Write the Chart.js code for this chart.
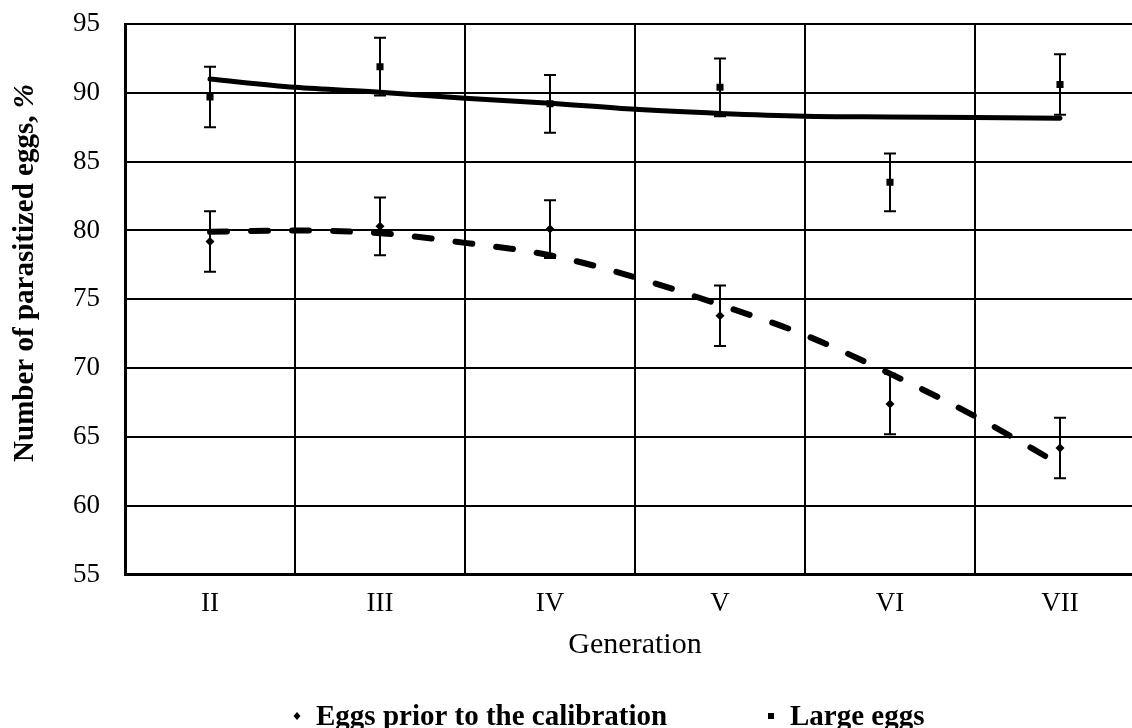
<!DOCTYPE html>
<html lang="en">
<head>
<meta charset="UTF-8">
<title>Number of parasitized eggs by generation</title>
<script src="https://cdn.jsdelivr.net/npm/chart.js"></script>
<style>
  html, body { margin: 0; padding: 0; overflow: hidden; background: #fff; }
  #wrap { width: 1150px; height: 728px; }
</style>
</head>
<body>
<div id="wrap"><canvas id="myChart" width="1150" height="728"></canvas></div>
<script>
// categories
const generations = ['II', 'III', 'IV', 'V', 'VI', 'VII'];

// measured means and error (+/-)
const priorEggs = [79.2, 80.3, 80.1, 73.8, 67.4, 64.2];
const priorErr  = [2.2, 2.1, 2.1, 2.2, 2.2, 2.2];
const largeEggs = [89.7, 91.9, 89.2, 90.4, 83.5, 90.6];
const largeErr  = [2.2, 2.1, 2.1, 2.1, 2.1, 2.2];

// trend lines (x = generation index, 1 = II)
const trendX     = [1, 1.5, 2, 2.5, 3, 3.5, 4, 4.5, 5, 5.5, 6];
const priorTrend = [79.9, 80.0, 79.8, 79.1, 78.2, 76.6, 74.6, 72.4, 69.6, 66.5, 63.0];
const largeTrend = [91.0, 90.4, 90.05, 89.6, 89.25, 88.8, 88.5, 88.3, 88.25, 88.2, 88.15];

const yTicks = { min: 55, max: 95, step: 5 };
const xTitle = 'Generation';
const yTitleText = 'Number of parasitized eggs, ';
const yTitleUnit = '%';

const FONT = '"Liberation Serif", "Times New Roman", serif';

// error bars for datasets that carry an "errors" array
const errorBars = {
  id: 'errorBars',
  afterDatasetsDraw(chart) {
    const ctx = chart.ctx;
    const y = chart.scales.y;
    ctx.save();
    ctx.strokeStyle = '#000';
    ctx.lineWidth = 2;
    chart.data.datasets.forEach((ds, i) => {
      if (!ds.errors) return;
      chart.getDatasetMeta(i).data.forEach((pt, j) => {
        const top = y.getPixelForValue(ds.data[j] + ds.errors[j]);
        const bot = y.getPixelForValue(ds.data[j] - ds.errors[j]);
        ctx.beginPath();
        ctx.moveTo(pt.x, top); ctx.lineTo(pt.x, bot);
        ctx.moveTo(pt.x - 6, top); ctx.lineTo(pt.x + 6, top);
        ctx.moveTo(pt.x - 6, bot); ctx.lineTo(pt.x + 6, bot);
        ctx.stroke();
      });
    });
    ctx.restore();
  }
};

// rotated y title, "%" in italic
const yTitle = {
  id: 'yTitle',
  afterDraw(chart) {
    const ctx = chart.ctx;
    ctx.save();
    ctx.translate(26, 273);
    ctx.rotate(-Math.PI / 2);
    ctx.fillStyle = '#000';
    ctx.textBaseline = 'middle';
    ctx.font = 'bold 29px ' + FONT;
    const w1 = ctx.measureText(yTitleText).width;
    ctx.font = 'italic bold 29px ' + FONT;
    const w2 = ctx.measureText(yTitleUnit).width;
    const x0 = -(w1 + w2) / 2;
    ctx.font = 'bold 29px ' + FONT;
    ctx.fillText(yTitleText, x0, 0);
    ctx.font = 'italic bold 29px ' + FONT;
    ctx.fillText(yTitleUnit, x0 + w1, 0);
    ctx.restore();
  }
};

// legend at the bottom, only the marker series
const bottomLegend = {
  id: 'bottomLegend',
  afterDraw(chart) {
    const ctx = chart.ctx;
    const slots = [297, 771];
    const cy = 716;
    ctx.save();
    ctx.fillStyle = '#000';
    ctx.font = 'bold 29px ' + FONT;
    ctx.textBaseline = 'alphabetic';
    let k = 0;
    chart.data.datasets.forEach(ds => {
      if (ds.showLine !== false) return;
      const cx = slots[k++];
      ctx.beginPath();
      if (ds.pointStyle === 'rectRot') {
        ctx.moveTo(cx, cy - 4); ctx.lineTo(cx + 3.5, cy);
        ctx.lineTo(cx, cy + 4); ctx.lineTo(cx - 3.5, cy);
        ctx.closePath();
      } else {
        ctx.rect(cx - 3, cy - 3, 6, 6);
      }
      ctx.fill();
      ctx.fillText(ds.label, cx + 19, 725);
    });
    ctx.restore();
  }
};

const ctx = document.getElementById('myChart');
new Chart(ctx, {
  type: 'line',
  data: {
    labels: generations,
    datasets: [
      {
        label: 'Eggs prior to the calibration',
        data: priorEggs,
        errors: priorErr,
        showLine: false,
        pointStyle: 'rectRot',
        pointRadius: 4.5,
        backgroundColor: '#000',
        borderColor: '#000',
        borderWidth: 0
      },
      {
        label: 'Large eggs',
        data: largeEggs,
        errors: largeErr,
        showLine: false,
        pointStyle: 'rect',
        pointRadius: 5,
        backgroundColor: '#000',
        borderColor: '#000',
        borderWidth: 0
      },
      {
        label: 'Trend: eggs prior to the calibration',
        xAxisID: 'xt',
        data: trendX.map((x, i) => ({ x: x, y: priorTrend[i] })),
        borderColor: '#000',
        borderWidth: 6,
        borderDash: [17, 24],
        borderCapStyle: 'round',
        cubicInterpolationMode: 'monotone',
        pointRadius: 0,
        fill: false
      },
      {
        label: 'Trend: large eggs',
        xAxisID: 'xt',
        data: trendX.map((x, i) => ({ x: x, y: largeTrend[i] })),
        borderColor: '#000',
        borderWidth: 5,
        borderCapStyle: 'round',
        cubicInterpolationMode: 'monotone',
        pointRadius: 0,
        fill: false
      }
    ]
  },
  options: {
    responsive: false,
    animation: false,
    layout: { padding: { top: 24, right: 5, bottom: 65, left: 0 } },
    plugins: {
      legend: { display: false },
      tooltip: { enabled: false }
    },
    scales: {
      x: {
        type: 'category',
        offset: true,
        grid: { offset: true, color: '#000', lineWidth: 2, drawTicks: false },
        border: { display: true, color: '#000', width: 3 },
        ticks: { color: '#000', padding: 13, font: { family: FONT, size: 27 } },
        title: {
          display: true,
          text: xTitle,
          color: '#000',
          padding: { top: -6, bottom: 0 },
          font: { family: FONT, size: 30 }
        }
      },
      xt: {
        type: 'linear',
        display: false,
        min: 0.5,
        max: 6.5
      },
      y: {
        min: yTicks.min,
        max: yTicks.max,
        afterFit(scale) {
          scale.width = 125;
          scale.paddingTop = 0;
          scale.paddingBottom = 0;
        },
        grid: { color: '#000', lineWidth: 2, drawTicks: false },
        border: { display: true, color: '#000', width: 3 },
        ticks: {
          stepSize: yTicks.step,
          color: '#000',
          padding: 25,
          font: { family: FONT, size: 27 }
        }
      }
    }
  },
  plugins: [errorBars, yTitle, bottomLegend]
});
</script>
</body>
</html>
